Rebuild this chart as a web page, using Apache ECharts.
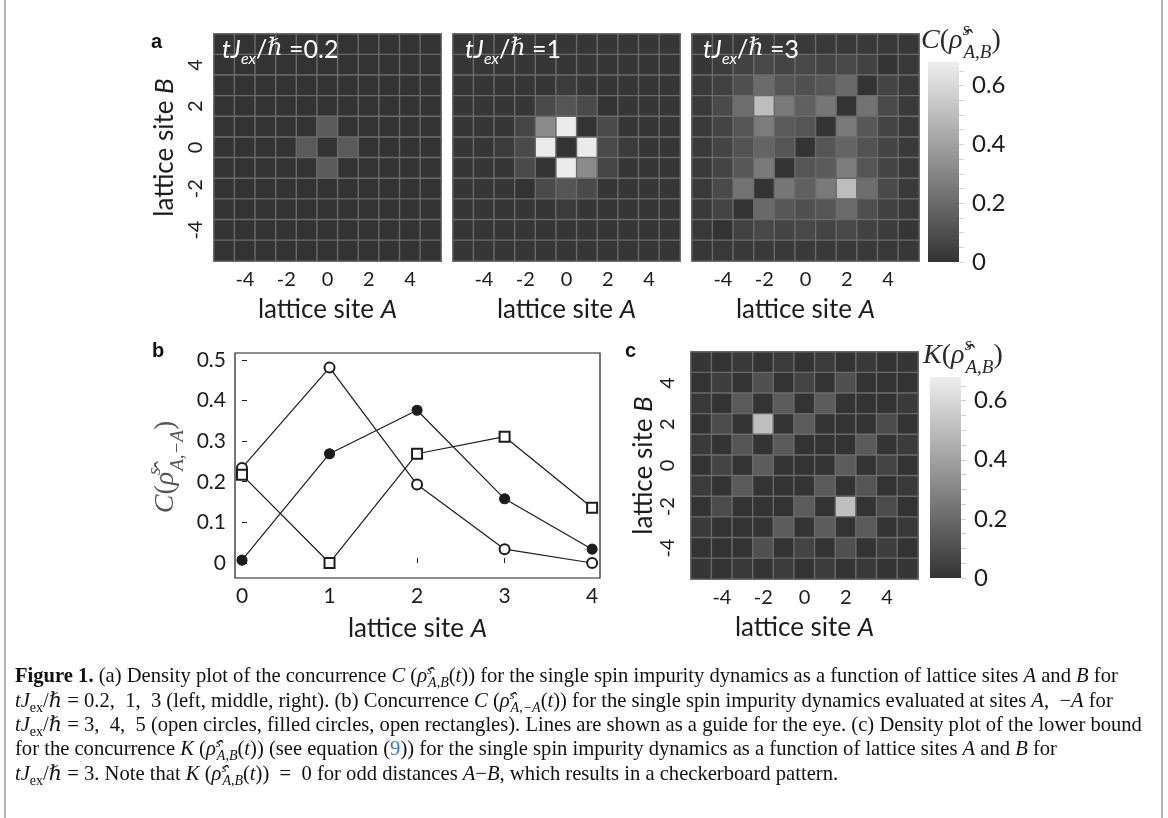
<!DOCTYPE html>
<html><head><meta charset="utf-8">
<script src="https://cdn.jsdelivr.net/npm/echarts@6/dist/echarts.min.js"></script>
<style>html,body{margin:0;padding:0;background:#fff}#chart{width:1168px;height:818px}</style>
</head><body><div id="chart"></div>
<script>
// ---------------- data ----------------
const sites = [-5,-4,-3,-2,-1,0,1,2,3,4,5];          // lattice sites A (columns) and B (rows)
const heatTickLabels = ['-4','-2','0','2','4'];
// rows: B = 5 (top) ... -5 (bottom); columns: A = -5 ... 5
const concT02 = [
 [0,0,0,0,0,0,0,0,0,0,0],
 [0,0,0,0,0,0,0,0,0,0,0],
 [0,0,0,0,0,0,0,0,0,0,0],
 [0,0,0,0,0,0,0,0,0,0,0],
 [0,0,0,0,0,0.14,0,0,0,0,0],
 [0,0,0,0,0.14,0,0.14,0,0,0,0],
 [0,0,0,0,0,0.14,0,0,0,0,0],
 [0,0,0,0,0,0,0,0,0,0,0],
 [0,0,0,0,0,0,0,0,0,0,0],
 [0,0,0,0,0,0,0,0,0,0,0],
 [0,0,0,0,0,0,0,0,0,0,0]
];
const concT1 = [
 [0.01,0.01,0.01,0.01,0.01,0.01,0.01,0.01,0.01,0.01,0.01],
 [0.01,0.01,0.01,0.01,0.01,0.01,0.01,0.01,0.01,0.01,0.01],
 [0.01,0.01,0.01,0.01,0.01,0.03,0.01,0.01,0.01,0.01,0.01],
 [0.01,0.01,0.01,0.01,0.084,0.124,0.084,0,0.01,0.01,0.01],
 [0.01,0.01,0.01,0.065,0.32,0.67,0,0.084,0.01,0.01,0.01],
 [0.01,0.01,0.03,0.084,0.67,0,0.67,0.084,0.03,0.01,0.01],
 [0.01,0.01,0.01,0.084,0,0.67,0.32,0.065,0.01,0.01,0.01],
 [0.01,0.01,0.01,0,0.084,0.124,0.084,0.01,0.01,0.01,0.01],
 [0.01,0.01,0.01,0.01,0.01,0.03,0.01,0.01,0.01,0.01,0.01],
 [0.01,0.01,0.01,0.01,0.01,0.01,0.01,0.01,0.01,0.01,0.01],
 [0.01,0.01,0.01,0.01,0.01,0.01,0.01,0.01,0.01,0.01,0.01]
];
const concT3 = [
 [0.015,0.018,0.02,0.02,0.02,0.02,0.02,0.02,0.02,0.018,0.015],
 [0.01,0.033,0.055,0.075,0.062,0.075,0.062,0.075,0.055,0,0.018],
 [0.025,0.047,0.10,0.204,0.124,0.105,0.13,0.2,0,0.062,0.025],
 [0.025,0.084,0.215,0.50,0.258,0.164,0.247,0,0.233,0.084,0.025],
 [0.025,0.062,0.124,0.265,0.142,0.124,0,0.258,0.135,0.062,0.025],
 [0.025,0.062,0.113,0.178,0.124,0,0.124,0.178,0.113,0.062,0.025],
 [0.025,0.062,0.135,0.258,0,0.124,0.142,0.265,0.124,0.062,0.025],
 [0.025,0.084,0.233,0,0.247,0.164,0.258,0.50,0.215,0.084,0.025],
 [0.025,0.062,0,0.2,0.13,0.105,0.124,0.204,0.10,0.047,0.025],
 [0.018,0,0.055,0.075,0.062,0.075,0.062,0.075,0.055,0.033,0.01],
 [0.015,0.018,0.02,0.02,0.02,0.02,0.02,0.02,0.02,0.018,0.015]
];
const boundK = [
 [0.01,0,0.02,0,0.03,0,0.03,0,0.02,0,0.01],
 [0,0.04,0,0.105,0,0.062,0,0.105,0,0,0],
 [0.018,0,0.142,0,0.149,0,0.149,0,0,0,0.025],
 [0,0.09,0,0.51,0,0.149,0,0,0,0.09,0],
 [0.025,0,0.124,0,0.142,0,0,0,0.142,0,0.03],
 [0,0.062,0,0.149,0,0,0,0.149,0,0.062,0],
 [0.03,0,0.142,0,0,0,0.142,0,0.124,0,0.025],
 [0,0.09,0,0,0,0.149,0,0.51,0,0.09,0],
 [0.025,0,0,0,0.149,0,0.149,0,0.142,0,0.018],
 [0,0,0,0.105,0,0.062,0,0.105,0,0.04,0],
 [0.01,0,0.02,0,0.03,0,0.03,0,0.02,0,0.01]
];
// panel b
const bSites = [0,1,2,3,4];
const bOpenCircles  = [0.234,0.481,0.193,0.034,0.0];
const bFilledCircles = [0.007,0.269,0.376,0.158,0.034];
const bOpenSquares  = [0.217,0.0,0.269,0.311,0.136];
const bXTicks = [0,1,2,3,4];
const bYTicks = [0,0.1,0.2,0.3,0.4,0.5];
// colour bars
const cbLabels = [0,0.2,0.4,0.6];
const cbTicks = [0,0.05,0.1,0.15,0.2,0.25,0.3,0.35,0.4,0.45,0.5,0.55,0.6,0.65];
const VMAX = 0.68;

// ---------------- styling ----------------
const SANS = 'Lato, "Liberation Sans", sans-serif';
const SERIF = '"Liberation Serif", "DejaVu Serif", serif';
const INK = '#1c1c1c';
const DARK = '#333333', LIGHT = '#eeeeee';

function heatData(m){ const out=[]; m.forEach((row,r)=>row.forEach((v,c)=>out.push([c, m.length-1-r, v]))); return out; }

const heatPos = [{left:214,top:34},{left:453,top:34},{left:692,top:34},{left:691,top:352}];
const grids = heatPos.map(p=>({left:p.left, top:p.top, width:227, height:227, show:true, borderColor:'#8f8f8f', borderWidth:1}));
grids.push({left:235, top:353, width:365, height:225, show:true, borderColor:INK, borderWidth:1.2});
grids.push({left:928, top:62, width:31, height:200});
grids.push({left:930, top:377, width:31, height:201});

const nameRich = {
  n:{fontFamily:SANS, fontSize:26, color:INK},
  i:{fontFamily:SANS, fontSize:26, fontStyle:'italic', color:INK}
};
const showEven = (idx, val) => heatTickLabels.indexOf(String(val)) >= 0;

const xAxes = [], yAxes = [];
heatPos.forEach((p,i)=>{
  xAxes.push({gridIndex:i, type:'category', data:sites.map(String),
    axisLine:{show:false}, axisTick:{show:false}, splitLine:{show:false},
    axisLabel:{interval:showEven, fontFamily:SANS, fontSize:20, color:INK, margin:9},
    name:'{n|lattice site }{i|A}', nameLocation:'middle', nameGap:36, nameTextStyle:{rich:nameRich}});
  const withY = (i===0 || i===3);
  yAxes.push({gridIndex:i, type:'category', data:sites.map(String),
    axisLine:{show:false}, axisTick:{show:false}, splitLine:{show:false},
    axisLabel:{show:withY, interval:showEven, rotate:90, fontFamily:SANS, fontSize:20, color:INK, margin: i===0?8:13},
    name: withY ? '{n|lattice site }{i|B}' : '', nameLocation:'middle', nameRotate:90, nameGap: i===0?36:33,
    nameTextStyle:{rich:nameRich}});
});
// panel b
xAxes.push({gridIndex:4, type:'value', min:-0.08, max:4.09,
  axisLine:{show:false}, splitLine:{show:false},
  axisTick:{show:true, inside:true, length:5, customValues:bXTicks, lineStyle:{color:INK}},
  axisLabel:{customValues:bXTicks, fontFamily:SANS, fontSize:21, color:INK, margin:8},
  name:'{n|lattice site }{i|A}', nameLocation:'middle', nameGap:38, nameTextStyle:{rich:nameRich}});
yAxes.push({gridIndex:4, type:'value', min:-0.037, max:0.517,
  axisLine:{show:false}, splitLine:{show:false},
  axisTick:{show:true, inside:true, length:5, customValues:bYTicks, lineStyle:{color:INK}},
  axisLabel:{customValues:bYTicks, fontFamily:SANS, fontSize:21, color:INK, margin:9,
    formatter:v=> v===0 ? '0' : v.toFixed(1)}});
// colour bars
[5,6].forEach(g=>{
  xAxes.push({gridIndex:g, type:'category', data:[''], show:false});
  yAxes.push({gridIndex:g, type:'value', min:0, max:VMAX, position:'right',
    axisLine:{show:false}, splitLine:{show:false},
    axisTick:{show:true, length:5, customValues:cbTicks, lineStyle:{color:'#cfcfcf'}},
    axisLabel:{customValues:cbLabels, fontFamily:SANS, fontSize:24, color:INK, margin:13,
      formatter:v=> v===0 ? '0' : v.toFixed(1)}});
});

const heatSeries = [concT02, concT1, concT3, boundK].map((m,i)=>({
  type:'heatmap', xAxisIndex:i, yAxisIndex:i, data:heatData(m),
  itemStyle:{borderColor:'#6a6a6a', borderWidth:1.4},
  emphasis:{disabled:true}, progressive:0, silent:true
}));

function lineSeries(vals, symbol){
  return {type:'line', xAxisIndex:4, yAxisIndex:4, data:bSites.map((a,i)=>[a, vals[i]]),
    symbol, symbolSize: 10,
    lineStyle:{color:INK, width:1.2}, itemStyle:{color:INK, borderColor:INK, borderWidth:1.1},
    emphasis:{disabled:true}, silent:true, animation:false};
}

// rich styles for math (graphic text -> uses fill)
function mathRich(size, color){
  const lh = Math.round(size*1.5), s = Math.round(size*0.68);
  return {
    i:{fontFamily:SERIF, fontSize:size, fontStyle:'italic', fill:color, lineHeight:lh, verticalAlign:'middle'},
    n:{fontFamily:SERIF, fontSize:size, fill:color, lineHeight:lh, verticalAlign:'middle'},
    sup:{fontFamily:SERIF, fontSize:s, fontStyle:'italic', fill:color, lineHeight:s, verticalAlign:'top', width:1},
    sub:{fontFamily:SERIF, fontSize:s, fontStyle:'italic', fill:color, lineHeight:s, verticalAlign:'bottom'}
  };
}

const tRich = {
  i:{fontFamily:SANS, fontSize:25, fontStyle:'italic', fill:'#ffffff', lineHeight:30, verticalAlign:'top'},
  sub:{fontFamily:SANS, fontSize:16, fontStyle:'italic', fill:'#ffffff', lineHeight:16, verticalAlign:'bottom'},
  h:{fontFamily:'"DejaVu Serif", serif', fontSize:24, fontStyle:'italic', fill:'#ffffff', lineHeight:30, verticalAlign:'top'},
  n:{fontFamily:SANS, fontSize:25, fill:'#ffffff', lineHeight:30, verticalAlign:'top'}
};
function tLabel(x, val){
  return {type:'text', left:x, top:37, z:50, silent:true,
    style:{text:'{i|tJ}{sub|ex}{n|/}{h|ℏ}{n| =' + val + '}', rich:tRich, fill:'#ffffff'}};
}

const capSize = 20.6, capLH = 26;
const capRich = {
  b:{fontFamily:SERIF, fontSize:capSize, fontWeight:'bold', fill:'#111', lineHeight:capLH},
  i:{fontFamily:SERIF, fontSize:capSize, fontStyle:'italic', fill:'#111', lineHeight:capLH},
  sr:{fontFamily:SERIF, fontSize:14, fill:'#111', lineHeight:14, verticalAlign:'bottom'},
  sub:{fontFamily:SERIF, fontSize:14, fontStyle:'italic', fill:'#111', lineHeight:14, verticalAlign:'bottom'},
  sup:{fontFamily:SERIF, fontSize:13, fontStyle:'italic', fill:'#111', lineHeight:13, verticalAlign:'top', width:1},
  bl:{fontFamily:SERIF, fontSize:capSize, fill:'#2a7dc4', lineHeight:capLH}
};
const TJ = '{i|tJ}{sr|ex}/{i|ℏ}';
const captionLines = [
  '{b|Figure 1.} (a) Density plot of the concurrence {i|C} ({i|ρ̂}{sup|s}{sub|A,B}({i|t})) for the single spin impurity dynamics as a function of lattice sites {i|A} and {i|B} for',
  TJ + ' = 0.2,  1,  3 (left, middle, right). (b) Concurrence {i|C} ({i|ρ̂}{sup|s}{sub|A,−A}({i|t})) for the single spin impurity dynamics evaluated at sites {i|A},  −{i|A} for',
  TJ + ' = 3,  4,  5 (open circles, filled circles, open rectangles). Lines are shown as a guide for the eye. (c) Density plot of the lower bound',
  'for the concurrence {i|K} ({i|ρ̂}{sup|s}{sub|A,B}({i|t})) (see equation ({bl|9})) for the single spin impurity dynamics as a function of lattice sites {i|A} and {i|B} for',
  TJ + ' = 3. Note that {i|K} ({i|ρ̂}{sup|s}{sub|A,B}({i|t}))  =  0 for odd distances {i|A}−{i|B}, which results in a checkerboard pattern.'
];
const captionY = [677, 702, 726, 750, 775];

const graphic = [];
// frame
graphic.push({type:'line', shape:{x1:5,y1:0,x2:5,y2:818}, style:{stroke:'#9a9a9a', lineWidth:1.5}, silent:true});
graphic.push({type:'line', shape:{x1:1162,y1:0,x2:1162,y2:818}, style:{stroke:'#9a9a9a', lineWidth:1.5}, silent:true});
// colour bar gradients
[[928,62,31,200],[930,377,31,201]].forEach(r=>{
  graphic.push({type:'rect', shape:{x:r[0], y:r[1], width:r[2], height:r[3]}, silent:true, z:5,
    style:{fill:new echarts.graphic.LinearGradient(0,0,0,1,[{offset:0,color:LIGHT},{offset:1,color:DARK}])}});
});
// panel letters
[['a',151,32],['b',152,341],['c',625,341]].forEach(l=>{
  graphic.push({type:'text', left:l[1], top:l[2], silent:true,
    style:{text:l[0], fontFamily:'"Liberation Sans", Arial, sans-serif', fontWeight:'bold', fontSize:20, fill:'#111'}});
});
// time labels
graphic.push(tLabel(222,'0.2'), tLabel(465,'1'), tLabel(703,'3'));
// colour bar titles
graphic.push({type:'text', left:921, top:20, silent:true,
  style:{text:'{i|C}{n|(}{i|ρ̂}{sup|s}{sub|A,B}{n|)}', rich:mathRich(28,'#2a2a2a')}});
graphic.push({type:'text', left:923, top:335, silent:true,
  style:{text:'{i|K}{n|(}{i|ρ̂}{sup|s}{sub|A,B}{n|)}', rich:mathRich(28,'#2a2a2a')}});
// panel b y-axis title (rotated)
graphic.push({type:'text', x:166, y:467, rotation:Math.PI/2, silent:true,
  style:{text:'{i|C}{n|(}{i|ρ̂}{sup|s}{sub|A,−A}{n|)}', rich:mathRich(28,'#555555'), align:'center', verticalAlign:'middle'}});
// caption
captionLines.forEach((t,k)=>{
  graphic.push({type:'text', left:15, top:captionY[k]-13, silent:true,
    style:{text:t, rich:capRich, fontFamily:SERIF, fontSize:capSize, fill:'#111', lineHeight:capLH}});
});

const option = {
  animation:false,
  backgroundColor:'#fff',
  grid: grids,
  xAxis: xAxes,
  yAxis: yAxes,
  visualMap:[{type:'continuous', show:false, min:0, max:VMAX, seriesIndex:[0,1,2,3], dimension:2,
    inRange:{color:[DARK, LIGHT]}}],
  series: heatSeries.concat([
    lineSeries(bOpenCircles,'emptyCircle'),
    lineSeries(bFilledCircles,'circle'),
    lineSeries(bOpenSquares,'emptyRect')
  ]),
  graphic: graphic
};
const chart = echarts.init(document.getElementById('chart'), null, {renderer:'canvas'});
chart.setOption(option);
</script></body></html>
